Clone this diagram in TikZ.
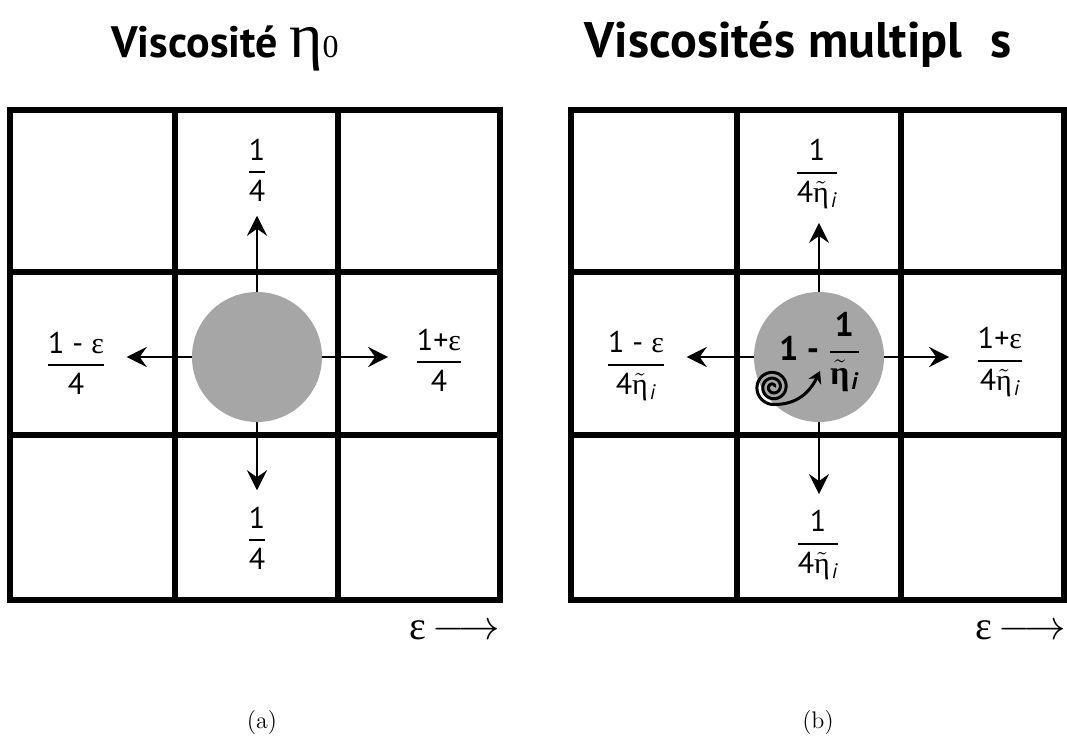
\documentclass[tikz,border=0pt]{standalone}
\usepackage{fontspec}
\setmainfont{PT Sans}
\newfontfamily\grk{Liberation Serif}
\newfontfamily\lmr{Latin Modern Roman}
\usetikzlibrary{arrows.meta}

\newcommand{\fr}[2]{$\displaystyle{\mbox{#1}\above 1.1pt\mbox{#2}}$}
\newcommand{\etat}{$\tilde{\mbox{\grk η}}$\kern1pt\textsubscript{\itshape i}}

\begin{document}
\begin{tikzpicture}[
        x=0.5pt, y=-0.5pt,
        gridline/.style={draw, line width=3pt},
        disc/.style={draw=none, circle, fill=black!35, minimum size=65pt, inner sep=0pt},
        arr/.style={draw, -{Stealth[length=10pt, width=10pt, inset=3.5pt]}, line width=1.4pt},
        lbl/.style={inner sep=0pt, font=\fontsize{15}{17}\selectfont},
        title/.style={font=\fontsize{25}{28}\selectfont},
        eps/.style={inner sep=0pt, font=\fontsize{20}{22}\selectfont},
        subcap/.style={font=\fontsize{12}{14}\selectfont\lmr},
        spiral/.style={draw, line width=1.5pt, -{Stealth[length=6pt, width=7pt, inset=2pt]}},
    ]
    \useasboundingbox (0,0) rectangle (1067,744);

    % titles
    \node[title, anchor=base] (t1) at (225,57) {\fontsize{22}{24}\selectfont\bfseries Viscosité
        {\mdseries\grk\fontsize{32}{32}\selectfont η\fontsize{16}{16}\selectfont 0}};
    \node[title, anchor=base] (t2) at (798,57) {\bfseries Viscosités multipl\hspace{0.55em}s};

    % grid (a)
    \draw[gridline] (10,110) rectangle (500,600);
    \draw[gridline] (175,110) -- (175,600) (338,110) -- (338,600);
    \draw[gridline] (10,272) -- (500,272) (10,435) -- (500,435);

    % grid (b)
    \draw[gridline] (571,110) rectangle (1064,600);
    \draw[gridline] (737,110) -- (737,600) (901,110) -- (901,600);
    \draw[gridline] (571,272) -- (1064,272) (571,435) -- (1064,435);

    % particle (a)
    \node[disc] (c1) at (257,357) {};
    \node[lbl] (n1) at (257,170) {\fr{1}{4}};
    \node[lbl] (s1) at (257,538) {\fr{1}{4}};
    \node[lbl] (w1) at (76,363) {\fr{1 - {\grk ε}}{4}};
    \node[lbl] (e1) at (439,360) {\fr{1+{\grk ε}}{4}};
    \draw[arr, shorten >=7pt] (c1.north) -- (c1.north |- n1.south);
    \draw[arr, shorten >=8pt] (c1.south) -- (c1.south |- s1.north);
    \draw[arr, shorten >=10pt] (c1.west) -- (c1.west -| w1.east);
    \draw[arr, shorten >=13pt] (c1.east) -- (c1.east -| e1.west);

    % particle (b)
    \node[disc] (c2) at (819,357) {};
    \node[lbl, font=\fontsize{17}{19}\selectfont\bfseries] (m2) at (820,352)
        {1 - \fr{\bfseries 1}{\bfseries\etat}};
    \node[lbl] (n2) at (817,174) {\fr{1}{4\etat}};
    \node[lbl] (s2) at (818,545) {\fr{1}{4\etat}};
    \node[lbl] (w2) at (636,366) {\fr{1 - {\grk ε}}{4\etat}};
    \node[lbl] (e2) at (1000,362) {\fr{1+{\grk ε}}{4\etat}};
    \draw[arr, shorten >=7pt] (c2.north) -- (c2.north |- n2.south);
    \draw[arr, shorten >=8pt] (c2.south) -- (c2.south |- s2.north);
    \draw[arr, shorten >=10pt] (c2.west) -- (c2.west -| w2.east);
    \draw[arr, shorten >=13pt] (c2.east) -- (c2.east -| e2.west);
    \draw[spiral] plot[domain=0:990, samples=140, smooth]
        ({773+(1.5+16*\x/990)*cos(\x)}, {387-(1.5+16*\x/990)*sin(\x)})
        .. controls (797,405) and (810,392) .. (820,371);

    % axis
    \node[eps, anchor=east] (x1) at (500,630) {{\grk ε}\,$\longrightarrow$};
    \node[eps, anchor=east] (x2) at (1066,630) {{\grk ε}\,$\longrightarrow$};

    % captions
    \node[subcap] (a) at (262,723) {(a)};
    \node[subcap] (b) at (818,723) {(b)};
\end{tikzpicture}
\end{document}
